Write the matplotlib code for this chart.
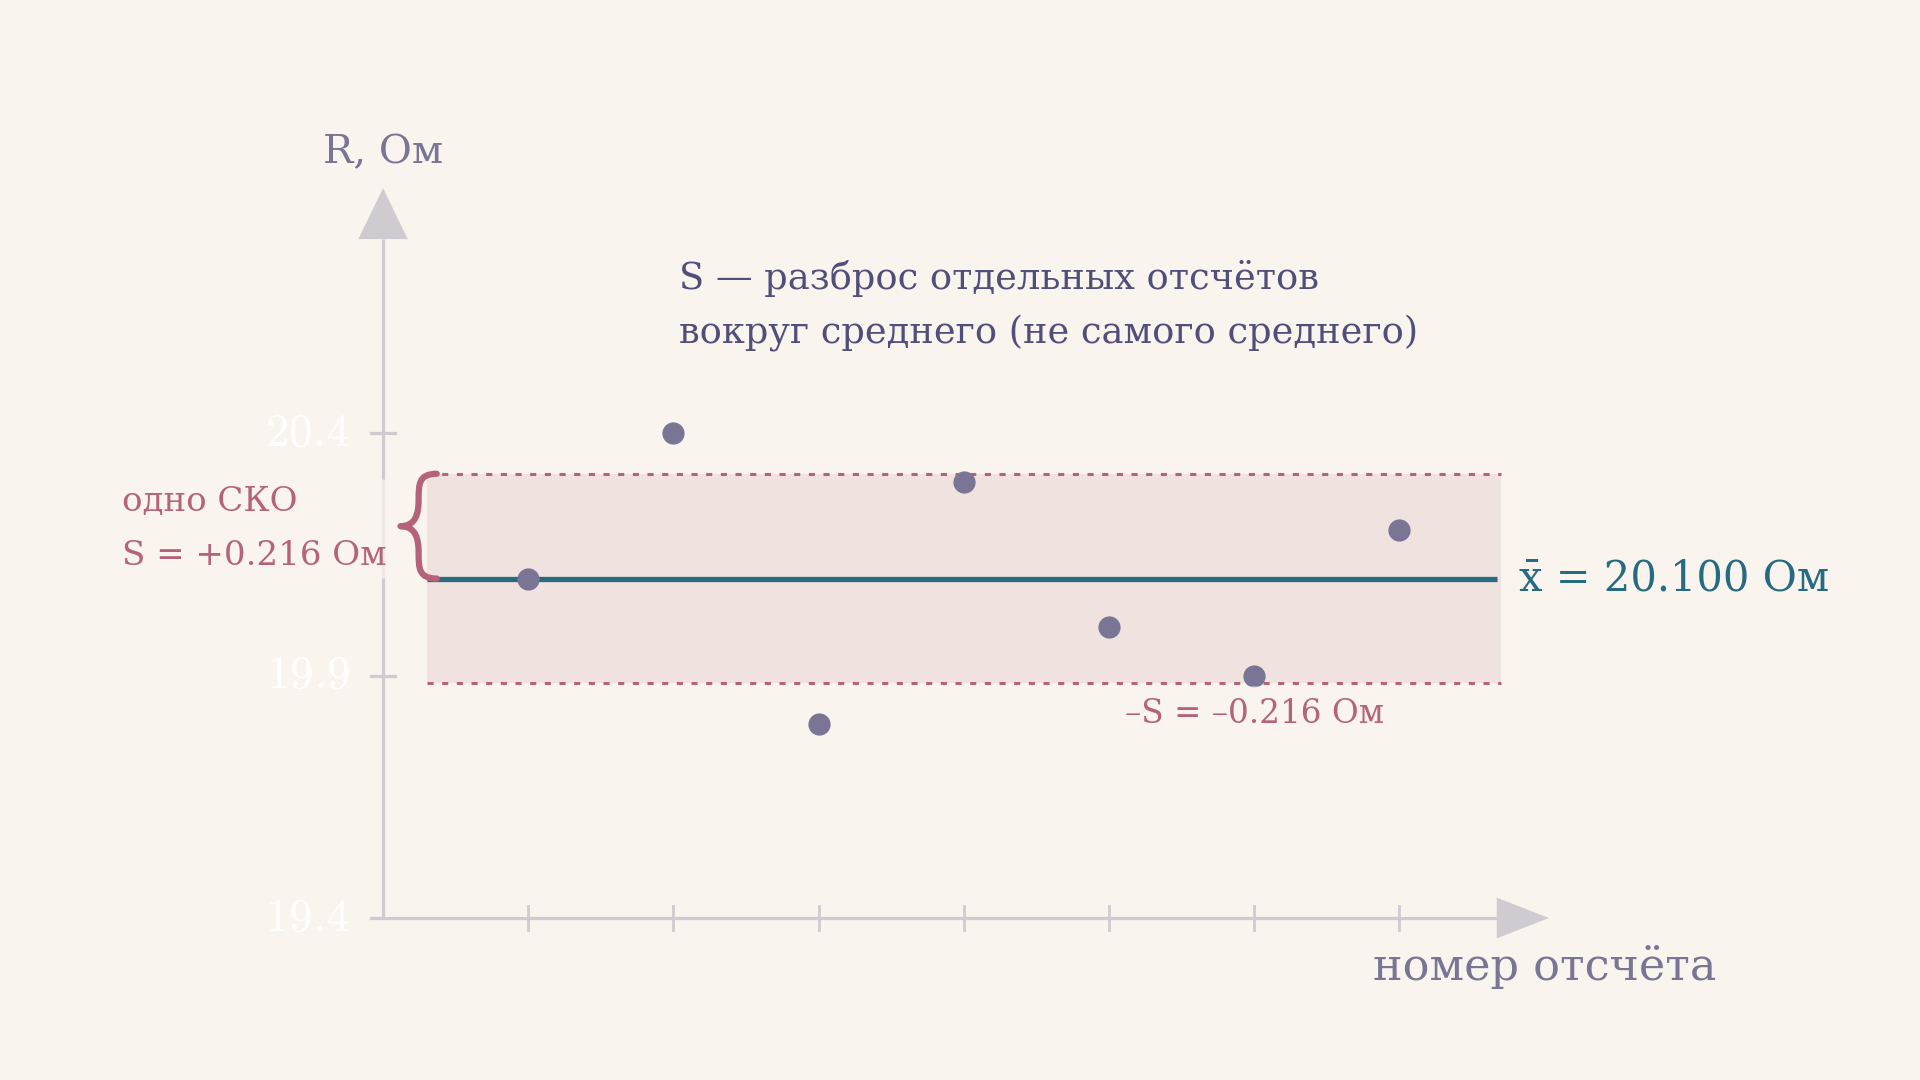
import numpy as np
import matplotlib
matplotlib.use("Agg")
import matplotlib.pyplot as plt
from matplotlib.path import Path
from matplotlib.patches import PathPatch, Polygon

# ---- data ----
readings = [1, 2, 3, 4, 5, 6, 7]
values = [20.1, 20.4, 19.8, 20.3, 20.0, 19.9, 20.2]
ytick_values = [19.4, 19.9, 20.4]
ytick_labels = ["19.4", "19.9", "20.4"]
mean_val = float(np.mean(values))
s_val = float(np.std(values, ddof=1))

BG = "#faf4ee"
AXC = "#d0cbd0"
PT = "#7a7594"
TEAL = "#266b80"
ROSE = "#b5637a"
BAND = "#f0e2df"
DARK = "#524e7a"

plt.rcParams["mathtext.fontset"] = "cm"
SERIF = ["DejaVu Serif"]

fig = plt.figure(figsize=(19.2, 10.8), dpi=100, facecolor=BG)
ax = fig.add_axes([0, 0, 1, 1])
ax.set_facecolor(BG)
ax.set_xlim(-2.638, 10.585)
ax.set_ylim(19.066, 21.293)
ax.axis("off")

x0, x1 = 0.3, 7.7
# band
ax.fill_between([x0, x1], mean_val - s_val, mean_val + s_val, color=BAND, lw=0, zorder=1)
ax.plot([x0, x1], [mean_val + s_val] * 2, color=ROSE, lw=2.2, ls=(0, (2, 2.8)), zorder=2)
ax.plot([x0, x1], [mean_val - s_val] * 2, color=ROSE, lw=2.2, ls=(0, (2, 2.8)), zorder=2)
# mean line
ax.plot([x0, 7.67], [mean_val] * 2, color=TEAL, lw=3.8, zorder=3, solid_capstyle="butt")

# axes
ax.plot([0, 0], [19.4, 20.8], color=AXC, lw=2.3, zorder=2, solid_capstyle="butt")
ax.plot([0, 7.67], [19.4, 19.4], color=AXC, lw=2.3, zorder=2, solid_capstyle="butt")
ax.add_patch(Polygon([[-0.17, 20.8], [0.17, 20.8], [0, 20.905]], closed=True,
                     fc=AXC, ec="none", zorder=2))
ax.add_patch(Polygon([[7.67, 19.4 - 0.042], [7.67, 19.4 + 0.042], [8.03, 19.4]], closed=True,
                     fc=AXC, ec="none", zorder=2))
# ticks
for xv in readings:
    ax.plot([xv, xv], [19.4 - 0.024, 19.4 + 0.024], color=AXC, lw=2.0, zorder=2)
for yv, lab in zip(ytick_values, ytick_labels):
    ax.plot([-0.08, 0.08 if yv > 19.4 else 0], [yv, yv], color=AXC, lw=2.3, zorder=2)
    ax.text(-0.23, yv, r"$\mathrm{" + lab + "}$", color="white", fontsize=34,
            ha="right", va="center", zorder=4)

# points
ax.plot(readings, values, "o", color=PT, ms=16, mec="none", zorder=5)

# brace
ytop, ybot = mean_val + s_val, mean_val
ym = (ytop + ybot) / 2
xa, xb, xt = 0.37, 0.245, 0.12
h = ytop - ybot
verts = [
    (xa, ytop),
    (xb, ytop), (xb + 0.0, ytop - 0.1 * h), (xb, ytop - 0.25 * h),
    (xb, ym + 0.12 * h), (xb - 0.02, ym), (xt, ym),
    (xb - 0.02, ym), (xb, ym - 0.12 * h), (xb, ybot + 0.25 * h),
    (xb, ybot + 0.1 * h), (xb, ybot), (xa, ybot),
]
codes = [Path.MOVETO] + [Path.CURVE4] * 12
ax.add_patch(PathPatch(Path(verts, codes), fc="none", ec=ROSE, lw=4.5, zorder=4,
                       capstyle="round", joinstyle="round"))

# texts
ax.text(0.0, 20.978, "R, Ом", color=PT, fontsize=29, family=SERIF, ha="center", va="center",
        zorder=6)
ax.text(2.04, 20.664, "S — разброс отдельных отсчётов\nвокруг среднего (не самого среднего)",
        color=DARK, fontsize=26.5, family=SERIF, ha="left", va="center", linespacing=1.6,
        zorder=6)
ax.text(-1.8, 20.202, "одно СКО\nS = +0.216 Ом", color=ROSE, fontsize=24.5, family=SERIF,
        ha="left", va="center", linespacing=1.85, zorder=6,
        bbox=dict(boxstyle="round,pad=0.2", fc=BG, ec="none", alpha=0.75))
ax.text(7.82, mean_val, "x̄ = 20.100 Ом", color=TEAL, fontsize=30, family=SERIF,
        ha="left", va="center", zorder=6,
        bbox=dict(boxstyle="round,pad=0.2", fc=BG, ec="none", alpha=0.8))
ax.text(6.0, mean_val - s_val - 0.063, "–S = –0.216 Ом", color=ROSE, fontsize=23.5,
        family=SERIF, ha="center", va="center", zorder=6,
        bbox=dict(boxstyle="round,pad=0.35", fc=BG, ec="none", alpha=0.7))
ax.text(8.0, 19.3, "номер отсчёта", color=PT, fontsize=32, family=SERIF,
        ha="center", va="center", zorder=6)

fig.savefig("out.png", dpi=100, facecolor=BG)
